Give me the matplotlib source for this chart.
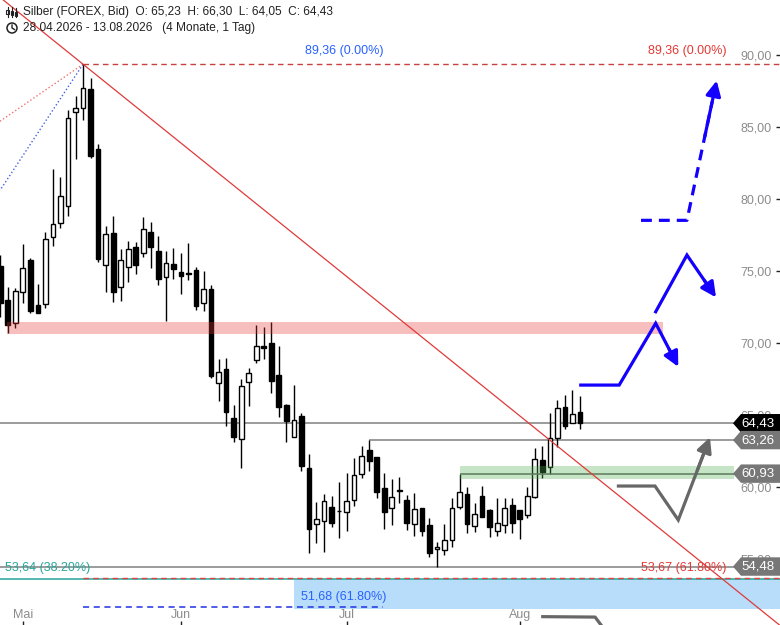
import matplotlib
matplotlib.use("Agg")
import matplotlib.pyplot as plt
import matplotlib.patches as mpatches
import matplotlib.lines as mlines
from matplotlib.transforms import IdentityTransform
import pandas as pd

plt.rcParams['font.family'] = ['Liberation Sans', 'DejaVu Sans']

# daily candles, 28.04.2026 - 13.08.2026 (weekdays)
dates = pd.bdate_range("2026-04-28", "2026-08-13")
opens = [75.35, 72.99, 71.37, 73.52, 75.76, 72.62, 72.69, 77.34, 78.31, 79.51,
         86.02, 86.30, 87.62, 83.47, 75.39, 77.64, 73.87, 75.25, 76.64, 76.23,
         77.71, 76.39, 74.61, 75.49, 74.93, 74.84, 75.07, 72.75, 73.73, 67.20,
         68.17, 64.77, 63.31, 67.27, 68.80, 69.79, 69.98, 67.78, 65.70, 63.45,
         64.93, 61.32, 57.41, 57.64, 58.61, 58.33, 58.24, 59.07, 60.88, 62.57,
         62.08, 59.93, 58.52, 59.79, 59.10, 57.41, 58.54, 57.36, 55.67, 55.60,
         56.30, 58.63, 59.49, 57.29, 59.35, 58.38, 56.94, 57.36, 58.78, 58.38,
         58.03, 59.33, 61.88, 61.37, 63.43, 65.53, 64.42, 65.23]
highs = [76.11, 73.87, 73.84, 76.87, 75.88, 74.10, 77.71, 82.08, 81.53, 86.18,
         87.15, 89.36, 88.38, 83.80, 78.12, 78.82, 76.50, 77.08, 77.01, 78.73,
         78.40, 77.43, 76.39, 76.57, 76.27, 76.94, 75.25, 75.00, 74.00, 68.87,
         68.93, 65.70, 67.48, 68.24, 71.25, 71.11, 71.46, 69.81, 65.76, 67.08,
         65.12, 62.27, 58.94, 59.51, 59.37, 60.35, 60.95, 61.99, 62.85, 63.26,
         62.08, 60.95, 60.56, 60.67, 59.44, 59.56, 58.54, 57.87, 56.18, 57.43,
         59.21, 60.93, 59.98, 58.87, 60.05, 58.45, 59.21, 59.21, 59.21, 58.38,
         59.98, 62.69, 62.82, 65.12, 66.04, 66.39, 66.74, 66.30]
lows = [71.83, 70.67, 71.02, 72.75, 72.06, 72.06, 72.45, 76.76, 77.96, 78.84,
        82.80, 85.49, 82.87, 75.60, 73.56, 72.87, 72.94, 74.26, 74.77, 76.00,
        75.23, 74.03, 71.55, 74.42, 73.43, 74.37, 72.29, 72.25, 67.55, 65.99,
        64.26, 63.10, 61.30, 65.65, 68.59, 68.87, 66.55, 64.88, 63.10, 63.45,
        61.13, 55.44, 56.13, 55.51, 57.25, 56.43, 56.97, 58.68, 60.65, 61.13,
        59.26, 57.06, 57.36, 58.87, 57.01, 56.62, 56.62, 55.12, 54.48, 55.28,
        55.86, 58.45, 56.83, 56.90, 57.89, 56.50, 56.57, 56.78, 56.78, 56.37,
        57.83, 59.21, 60.65, 60.90, 62.80, 64.03, 64.42, 64.05]
closes = [72.75, 71.23, 73.61, 75.19, 72.25, 72.06, 77.20, 78.24, 80.21, 85.60,
          86.30, 87.69, 82.99, 75.81, 77.55, 73.56, 75.74, 76.50, 75.39, 77.89,
          76.69, 74.42, 75.53, 75.12, 74.68, 74.82, 72.59, 73.75, 67.73, 67.96,
          65.18, 63.45, 67.01, 67.89, 69.79, 69.63, 67.38, 65.53, 64.61, 64.63,
          61.48, 57.06, 57.76, 59.00, 57.48, 58.31, 59.00, 60.81, 62.13, 61.83,
          59.68, 58.29, 59.31, 59.70, 57.52, 58.45, 56.97, 55.44, 55.81, 56.30,
          58.52, 59.63, 57.41, 58.10, 57.89, 57.20, 57.48, 58.52, 57.48, 57.76,
          59.40, 61.92, 61.06, 63.43, 65.46, 64.26, 65.07, 64.43]

month_names = {5: "Mai", 6: "Jun", 7: "Jul", 8: "Aug"}
price_ticks = [55, 60, 65, 70, 75, 80, 85, 90]

# Fibonacci / drawing levels
peak_idx, peak_price = 11, 89.36
fib_top = 89.36
fib_382 = 53.64
fib_618_a = 53.67
fib_618_b = 51.68
trend_end = (103.3, 50.5)
resist_zone = (70.60, 71.48)
support_zone = (60.58, 61.46)
blue_zone = (51.55, 53.64)
last_price = 64.43
level_high = 63.26
level_support = 60.93
level_low = 54.48

# projection arrows (bar index, price)
blue_path_1 = [(77.1, 67.08), (82.2, 67.08), (87.05, 71.37), (90.05, 68.35)]
blue_path_2 = [(87.05, 72.17), (91.2, 76.11), (95.06, 73.17)]
blue_path_3 = [(85.1, 78.52), (91.2, 78.52), (95.15, 88.22)]
gray_path_1 = [(82.1, 60.07), (86.96, 60.07), (90.05, 57.71), (94.26, 63.45)]
gray_path_2 = [(72.05, 51.0), (79.0, 50.97), (80.4, 50.0)]

BLUE = "#1400ff"
GRAY = "#676767"

fig = plt.figure(figsize=(7.8, 6.25), dpi=100)
ax = fig.add_axes([0, 0, 1, 1])
ax.set_xlim(-0.03, 103.56)
ax.set_ylim(50.42, 93.82)
for s in ax.spines.values():
    s.set_visible(False)

x = list(range(len(dates)))

# candles
for i in x:
    o, h, l, c = opens[i], highs[i], lows[i], closes[i]
    ax.vlines(i, l, h, color="black", lw=1, zorder=3)
    bottom = min(o, c)
    height = max(abs(c - o), 0.06)
    if c >= o:
        ax.bar(i, height, bottom=bottom, width=0.62, facecolor="white",
               edgecolor="black", lw=1, zorder=4)
    else:
        ax.bar(i, height, bottom=bottom, width=0.62, facecolor="black",
               edgecolor="black", lw=1, zorder=4)

# zones
ax.fill_between([0.94, 88.06], *resist_zone, color="#e53935", alpha=0.32, lw=0, zorder=5)
ax.fill_between([61.06, 97.4], *support_zone, color="#4caf50", alpha=0.32, lw=0, zorder=5)
ax.fill_between([39.0, 104], *blue_zone, color="#2196f3", alpha=0.32, lw=0, zorder=1)

# horizontal levels
ax.axhline(last_price, color="#808080", lw=1.1, zorder=2)
ax.hlines(level_high, 49, 104, color="#808080", lw=1.1, zorder=2)
ax.hlines(level_support, 61.06, 104, color="#5a7a5a", lw=1.1, zorder=6)
ax.axhline(level_low, color="#808080", lw=1.1, zorder=2)
ax.axhline(fib_382, color="#26a69a", lw=1.1, zorder=2)
ax.hlines(fib_618_a, peak_idx, 104, color="#e04040", lw=1, ls=(0, (4, 3)), zorder=2)
ax.hlines(fib_top, peak_idx, 104, color="#c84040", lw=1, ls=(0, (4, 3)), zorder=2)
ax.hlines(fib_618_b, peak_idx, 50.84, color="#2030e0", lw=1.1, ls=(0, (4, 3)), zorder=2)

# trendline and fib rays
ax.axline((peak_idx, peak_price), trend_end, color="#e03a3a", lw=0.9, zorder=6)
ax.plot([peak_idx, -0.03], [peak_price, 85.4], color="#f07070", lw=1, ls=":", zorder=2)
ax.plot([peak_idx, -0.03], [peak_price, 80.6], color="#4060f0", lw=1, ls=":", zorder=2)

# fib labels
ax.text(50.84, fib_top + 0.5, "89,36 (0.00%)", color="#2962ff", fontsize=9,
        ha="right", va="bottom")
ax.text(96.5, fib_top + 0.5, "89,36 (0.00%)", color="#e53935", fontsize=9,
        ha="right", va="bottom")
ax.text(0.65, fib_382 + 0.3, "53,64 (38.20%)", color="#26a69a", fontsize=9,
        ha="left", va="bottom")
ax.text(96.5, fib_618_a + 0.3, "53,67 (61.80%)", color="#e53935", fontsize=9,
        ha="right", va="bottom")
ax.text(39.95, fib_618_b + 0.3, "51,68 (61.80%)", color="#2962ff", fontsize=9,
        ha="left", va="bottom")


def arrow_path(points, color, ls="-"):
    xs = [p[0] for p in points]
    ys = [p[1] for p in points]
    (x0, y0), (x1, y1) = points[-2], points[-1]
    # stop the line short of the tip, head is drawn separately
    xs[-1] = x0 + (x1 - x0) * 0.85
    ys[-1] = y0 + (y1 - y0) * 0.85
    ax.plot(xs, ys, color=color, lw=2.3, ls=ls, solid_joinstyle="miter",
            dash_capstyle="butt", zorder=8)
    ax.annotate("", xy=(x1, y1), xytext=(x0 + (x1 - x0) * 0.6, y0 + (y1 - y0) * 0.6),
                arrowprops=dict(arrowstyle="-|>,head_length=0.9,head_width=0.45",
                                color=color, lw=2.3, shrinkA=0, shrinkB=0),
                zorder=8)


arrow_path(blue_path_1, BLUE)
arrow_path(blue_path_2, BLUE)
arrow_path(blue_path_3, BLUE, ls=(0, (3.4, 2.2)))
arrow_path(gray_path_1, GRAY)
ax.plot([p[0] for p in gray_path_2], [p[1] for p in gray_path_2], color=GRAY, lw=2.3, zorder=8)

# price axis on the right, labels inside
ax.yaxis.tick_right()
ax.set_yticks(price_ticks)
ax.set_yticklabels([f"{v:.2f}".replace(".", ",") for v in price_ticks])
ax.tick_params(axis="y", direction="in", length=3, width=1, color="#222222",
               pad=-6, labelsize=9, labelcolor="#8c8c8c")
for lab in ax.get_yticklabels():
    lab.set_horizontalalignment("right")

# month ticks
month_idx, month_lab = [], []
for i, d in enumerate(dates):
    if d.month in month_names and (i == 0 or dates[i - 1].month != d.month) and d.month != 4:
        month_idx.append(i)
        month_lab.append(month_names[d.month])
ax.set_xticks(month_idx)
ax.set_xticklabels(month_lab)
ax.tick_params(axis="x", direction="in", length=3, width=1, color="#222222",
               pad=-11.5, labelsize=9, labelcolor="#8c8c8c")

# price tags on the right edge
ytr = ax.get_yaxis_transform()
tags = [(last_price, "#000000"), (level_high, "#777777"),
        (level_support, "#777777"), (level_low, "#777777")]
for price, col in tags:
    hh = 0.64
    poly = mpatches.Polygon([(0.9397, price), (0.9500, price + hh), (1.0, price + hh),
                             (1.0, price - hh), (0.9500, price - hh)],
                            closed=True, transform=ytr, facecolor=col, edgecolor="none",
                            zorder=10)
    ax.add_patch(poly)
    ax.text(0.9715, price, f"{price:.2f}".replace(".", ","), transform=ytr,
            color="white", fontsize=9.5, ha="center", va="center", zorder=11)

# header
H = 625
fig.text(23 / 780, 1 - 12.5 / H, "Silber (FOREX, Bid)  O: 65,23  H: 66,30  L: 64,05  C: 64,43",
         fontsize=8.6, color="#222222", va="center", ha="left")
fig.text(23 / 780, 1 - 28.5 / H, "28.04.2026 - 13.08.2026   (4 Monate, 1 Tag)",
         fontsize=8.6, color="#222222", va="center", ha="left")

idt = IdentityTransform()
for cx, top, bot, btop, bbot in [(7.5, 7, 17, 9.5, 13.5), (12, 7, 17, 11, 15), (16, 8, 17, 12, 16)]:
    fig.add_artist(mlines.Line2D([cx, cx], [H - top, H - bot], color="#222222", lw=0.8,
                                 transform=idt))
    fig.add_artist(mpatches.Rectangle((cx - 1.4, H - bbot), 2.8, bbot - btop,
                                      facecolor="white", edgecolor="#222222", lw=0.8,
                                      transform=idt))
fig.add_artist(mpatches.Circle((12, H - 28), 5, facecolor="none", edgecolor="#222222",
                               lw=1.1, transform=idt))
fig.add_artist(mlines.Line2D([12, 12, 14.5], [H - 25, H - 28, H - 29.5], color="#222222",
                             lw=1.0, transform=idt))

fig.savefig("out.png", dpi=100)
